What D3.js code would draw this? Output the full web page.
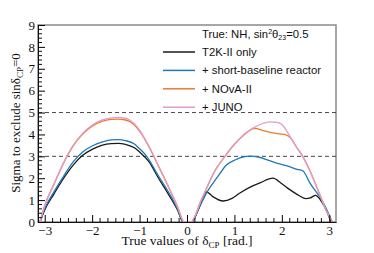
<!DOCTYPE html>
<html>
<head>
<meta charset="utf-8">
<script src="https://cdn.jsdelivr.net/npm/d3@7"></script>
<style>
  body { margin: 0; background: white; }
  svg text { font-family: "Liberation Serif", "Times New Roman", serif; }
  .leg { font-family: "Liberation Sans", Arial, sans-serif; font-size: 11.3px; }
</style>
</head>
<body>
<svg id="chart" width="374" height="253"></svg>
<script>
// ---- data: [deltaCP (rad), sigma] ----
var t2k_only = [[-3.10,0],[-3.0,0.55],[-2.8,1.3],[-2.6,2.0],[-2.4,2.6],[-2.2,3.05],[-2.0,3.32],[-1.8,3.5],[-1.6,3.58],[-1.45,3.59],[-1.3,3.55],[-1.1,3.38],[-1.0,3.2],[-0.8,2.75],[-0.6,2.0],[-0.4,1.3],[-0.2,0.55],[-0.08,0],[0.1,0],[0.25,0.62],[0.41,1.38],[0.55,1.15],[0.76,0.96],[0.95,1.08],[1.1,1.3],[1.32,1.58],[1.55,1.8],[1.81,2.0],[2.0,1.75],[2.16,1.49],[2.37,1.2],[2.5,1.07],[2.6,1.1],[2.71,1.22],[2.8,1.05],[2.9,0.7],[3.04,0]];
var plus_reactor = [[-3.10,0],[-3.0,0.6],[-2.8,1.4],[-2.6,2.1],[-2.4,2.75],[-2.2,3.2],[-2.0,3.47],[-1.8,3.65],[-1.6,3.75],[-1.45,3.76],[-1.3,3.72],[-1.1,3.55],[-1.0,3.35],[-0.85,3.0],[-0.6,2.1],[-0.4,1.4],[-0.2,0.6],[-0.08,0],[0.1,0],[0.25,0.62],[0.41,1.32],[0.55,1.78],[0.69,2.2],[0.81,2.56],[1.0,2.82],[1.15,2.95],[1.35,3.01],[1.5,2.97],[1.74,2.8],[1.95,2.65],[2.16,2.53],[2.3,2.42],[2.44,2.34],[2.6,1.75],[2.86,0.93],[2.95,0.55],[3.06,0]];
var plus_nova = [[-3.10,0],[-3.0,0.75],[-2.8,1.75],[-2.6,2.7],[-2.4,3.48],[-2.2,4.02],[-2.0,4.38],[-1.8,4.6],[-1.6,4.69],[-1.45,4.7],[-1.3,4.66],[-1.2,4.58],[-1.0,4.15],[-0.8,3.43],[-0.6,2.55],[-0.4,1.65],[-0.2,0.7],[-0.06,0],[0.08,0],[0.3,1.0],[0.58,2.3],[0.8,3.0],[1.0,3.55],[1.2,3.98],[1.43,4.28],[1.6,4.18],[1.8,4.07],[2.06,4.0],[2.2,3.8],[2.3,3.45],[2.44,3.0],[2.58,2.4],[2.79,1.3],[2.93,0.55],[3.07,0]];
var plus_juno = [[-3.10,0],[-3.0,0.75],[-2.8,1.75],[-2.6,2.72],[-2.4,3.5],[-2.2,4.05],[-2.0,4.42],[-1.8,4.65],[-1.6,4.76],[-1.45,4.78],[-1.3,4.74],[-1.2,4.65],[-1.0,4.2],[-0.8,3.45],[-0.6,2.55],[-0.4,1.65],[-0.2,0.7],[-0.06,0],[0.08,0],[0.3,1.0],[0.58,2.3],[0.8,3.0],[1.0,3.55],[1.2,4.0],[1.4,4.3],[1.6,4.5],[1.75,4.57],[1.9,4.55],[2.0,4.45],[2.16,3.95],[2.3,3.45],[2.44,3.0],[2.58,2.4],[2.79,1.3],[2.93,0.55],[3.07,0]];

var series_names = ["T2K-II only", "+ short-baseline reactor", "+ NOvA-II", "+ JUNO"];
var series_colors = ["#1a1a1a", "#1f78b8", "#ec7a2c", "#e39bc8"];
var x_ticks = [-3, -2, -1, 0, 1, 2, 3];
var y_ticks = [0, 1, 2, 3, 4, 5, 6, 7, 8, 9];
var ref_levels = [3, 5];

var svg = d3.select("#chart");
var plot_left = 38, plot_right = 336, plot_top = 25, plot_bottom = 222;

var x = d3.scaleLinear().domain([-Math.PI, Math.PI]).range([plot_left, plot_right]);
var y = d3.scaleLinear().domain([0, 9]).range([plot_bottom, plot_top]);

/*************************** frame ***************************/
svg.append("rect")
  .attr("x", plot_left).attr("y", plot_top).attr("width", plot_right-plot_left).attr("height", plot_bottom-plot_top)
  .attr("fill", "none").attr("stroke", "#8a8a8a").attr("stroke-width", 1.5);

// reference dashed lines
svg.selectAll("line.ref").data(ref_levels).enter().append("line")
  .attr("class", "ref")
  .attr("x1", plot_left).attr("x2", plot_right)
  .attr("y1", function(d){ return y(d); }).attr("y2", function(d){ return y(d); })
  .attr("stroke", "#333").attr("stroke-width", 0.9).attr("stroke-dasharray", "4,3");

/*************************** curves ***************************/
var line = d3.line()
  .x(function(d){ return x(d[0]); })
  .y(function(d){ return y(d[1]); })
  .curve(d3.curveMonotoneX);

var all_series = [t2k_only, plus_reactor, plus_nova, plus_juno];
all_series.forEach(function(s, i){
  svg.append("path").datum(s)
    .attr("d", line)
    .attr("fill", "none")
    .attr("stroke", series_colors[i])
    .attr("stroke-width", 1.3);
});

/*************************** axes ***************************/
var xAxis = d3.axisBottom(x).tickValues(x_ticks).tickSizeInner(-7).tickSizeOuter(0).tickFormat(d3.format("d"));
var gx = svg.append("g").attr("transform", "translate(0," + plot_bottom + ")").call(xAxis);
gx.select(".domain").attr("stroke", "#111");
gx.selectAll("text").attr("y", 4).attr("dy", "0.71em").attr("font-size", 13).attr("fill", "#111")
  .text(function(d){ return d < 0 ? "\u2212" + Math.abs(d) : d; });

// minor ticks: six per unit on x
var x_minor = d3.range(-19, 19).map(function(k){ return k/6; })
  .filter(function(v){ return k_not_int(v) && v > -Math.PI && v < Math.PI; });
function k_not_int(v){ return Math.abs(v - Math.round(v)) > 0.01; }
gx.selectAll("line.minor").data(x_minor).enter().append("line")
  .attr("class", "minor")
  .attr("x1", function(d){ return x(d); }).attr("x2", function(d){ return x(d); })
  .attr("y1", 0).attr("y2", -4).attr("stroke", "#111");

var yAxis = d3.axisLeft(y).tickValues(y_ticks).tickSizeInner(-7).tickSizeOuter(0);
var gy = svg.append("g").attr("transform", "translate(" + plot_left + ",0)").call(yAxis);
gy.select(".domain").attr("stroke", "#111");
gy.selectAll("text").attr("x", -3).attr("font-size", 13).attr("fill", "#111");

var y_minor = d3.range(0, 9.01, 0.2).filter(k_not_int);
gy.selectAll("line.minor").data(y_minor).enter().append("line")
  .attr("class", "minor")
  .attr("y1", function(d){ return y(d); }).attr("y2", function(d){ return y(d); })
  .attr("x1", 0).attr("x2", 4).attr("stroke", "#111");

/*************************** axis titles ***************************/
var xt = svg.append("text").attr("x", 187).attr("y", 245).attr("text-anchor", "middle").attr("font-size", 13.5).attr("fill", "#111");
xt.append("tspan").text("True values of \u03b4");
xt.append("tspan").attr("font-size", 9).attr("dy", 3).text("CP");
xt.append("tspan").attr("dy", -3).text(" [rad.]");

var yt = svg.append("text").attr("transform", "translate(20,123) rotate(-90)").attr("text-anchor", "middle").attr("font-size", 13).attr("fill", "#111");
yt.append("tspan").text("Sigma to exclude sin\u03b4");
yt.append("tspan").attr("font-size", 9).attr("dy", 3).text("CP");
yt.append("tspan").attr("dy", -3).text("=0");

/*************************** legend ***************************/
var title = svg.append("text").attr("class", "leg").attr("x", 202).attr("y", 38).attr("fill", "#111");
title.append("tspan").text("True: NH, sin");
title.append("tspan").attr("font-size", 7).attr("dy", -4).text("2");
title.append("tspan").text("\u03b8").attr("dy", 4);
title.append("tspan").attr("font-size", 7).attr("dy", 2).text("23");
title.append("tspan").attr("dy", -2).text("=0.5");

var leg = svg.selectAll("g.legrow").data(series_names).enter().append("g")
  .attr("class", "legrow")
  .attr("transform", function(d, i){ return "translate(0," + (52 + i*18.4) + ")"; });
leg.append("line").attr("x1", 163).attr("x2", 195).attr("y1", 0).attr("y2", 0)
  .attr("stroke", function(d, i){ return series_colors[i]; }).attr("stroke-width", 1.5);
leg.append("text").attr("class", "leg").attr("x", 202).attr("y", 4).attr("fill", "#111").text(function(d){ return d; });
</script>
</body>
</html>
